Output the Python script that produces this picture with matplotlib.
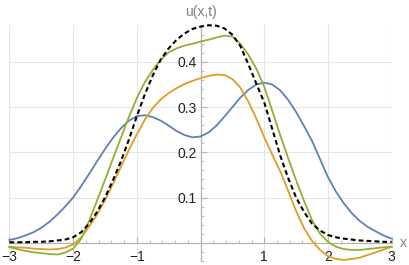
import numpy as np
import matplotlib.pyplot as plt
from matplotlib.ticker import MultipleLocator

############################## Data ############################################
x = [-3.0, -2.875, -2.75, -2.625, -2.5, -2.375, -2.25, -2.125, -2.0, -1.875,
     -1.75, -1.625, -1.5, -1.375, -1.25, -1.125, -1.0, -0.875, -0.75, -0.625,
     -0.5, -0.375, -0.25, -0.125, 0.0, 0.125, 0.25, 0.375, 0.5, 0.625, 0.75,
     0.875, 1.0, 1.125, 1.25, 1.375, 1.5, 1.625, 1.75, 1.875, 2.0, 2.125,
     2.25, 2.375, 2.5, 2.625, 2.75, 2.875, 3.0]
u_blue = [0.006, 0.010, 0.016, 0.023, 0.033, 0.046, 0.062, 0.080, 0.100,
          0.125, 0.152, 0.180, 0.207, 0.232, 0.253, 0.270, 0.280, 0.282,
          0.278, 0.270, 0.259, 0.247, 0.238, 0.233, 0.235, 0.244, 0.259,
          0.279, 0.300, 0.321, 0.338, 0.350, 0.354, 0.350, 0.337, 0.316,
          0.289, 0.258, 0.225, 0.185, 0.145, 0.113, 0.087, 0.065, 0.048,
          0.035, 0.025, 0.016, 0.009]
u_orange = [-0.009, -0.010, -0.011, -0.013, -0.014, -0.015, -0.014, -0.011,
            -0.004, 0.012, 0.035, 0.062, 0.094, 0.130, 0.168, 0.205, 0.240,
            0.272, 0.298, 0.317, 0.331, 0.342, 0.351, 0.358, 0.364, 0.369,
            0.372, 0.371, 0.362, 0.343, 0.312, 0.275, 0.233, 0.195, 0.158,
            0.115, 0.070, 0.032, 0.004, -0.016, -0.030, -0.036, -0.038,
            -0.036, -0.033, -0.027, -0.021, -0.015, -0.009]
u_green = [-0.010, -0.014, -0.018, -0.021, -0.023, -0.025, -0.026, -0.022,
           -0.013, 0.008, 0.048, 0.093, 0.139, 0.186, 0.232, 0.278, 0.320,
           0.355, 0.382, 0.405, 0.421, 0.430, 0.436, 0.440, 0.445, 0.449,
           0.454, 0.458, 0.456, 0.440, 0.416, 0.385, 0.345, 0.292, 0.238,
           0.187, 0.138, 0.092, 0.050, 0.020, 0.002, -0.009, -0.014, -0.016,
           -0.016, -0.014, -0.012, -0.010, -0.009]
u_exact = [0.001, 0.001, 0.001, 0.002, 0.002, 0.003, 0.005, 0.007, 0.012,
           0.023, 0.042, 0.068, 0.100, 0.138, 0.180, 0.228, 0.280, 0.328,
           0.370, 0.405, 0.430, 0.449, 0.463, 0.473, 0.478, 0.481, 0.480,
           0.474, 0.460, 0.435, 0.395, 0.352, 0.310, 0.252, 0.193, 0.143,
           0.100, 0.068, 0.042, 0.027, 0.017, 0.012, 0.009, 0.007, 0.005,
           0.004, 0.003, 0.002, 0.002]
x_ticks = [-3, -2, -1, 1, 2, 3]
y_ticks = [0.1, 0.2, 0.3, 0.4]

############################## Plot ############################################
plt.rcParams['font.family'] = ['Liberation Sans', 'DejaVu Sans']
fig = plt.figure(figsize=(4.09, 2.65), dpi=100)
ax = fig.add_axes([0.023, 0.0158, 0.9347, 0.8899])

ax.plot(x, u_blue, color='#5E81B5', lw=1.3, clip_on=False, zorder=3)
ax.plot(x, u_orange, color='#E19C24', lw=1.3, clip_on=False, zorder=3)
ax.plot(x, u_green, color='#8FB032', lw=1.3, clip_on=False, zorder=3)
ax.plot(x, u_exact, color='black', lw=1.5, dashes=(2.3, 1.5),
        clip_on=False, zorder=4)

## axis limits
ax.set_xlim(-3, 3)
ax.set_ylim(-0.04, 0.4816)

## grid lines
for gx in range(-3, 4):
    ax.axvline(gx, color='#e6e6e6', lw=0.8, zorder=0)
for gy in y_ticks:
    ax.axhline(gy, color='#e6e6e6', lw=0.8, zorder=0)

## axes through the origin
for side in ['top', 'right']:
    ax.spines[side].set_visible(False)
ax.spines['bottom'].set_position(('data', 0))
ax.spines['left'].set_position(('data', 0))
for side in ['bottom', 'left']:
    ax.spines[side].set_color('#b3b3b3')
    ax.spines[side].set_linewidth(0.9)
    ax.spines[side].set_zorder(1)

ax.set_xticks(x_ticks)
ax.set_yticks(y_ticks)
ax.set_xticklabels(['\u22123', '\u22122', '\u22121', '1', '2', '3'])
ax.set_yticklabels(['0.1', '0.2', '0.3', '0.4'])
ax.xaxis.set_minor_locator(MultipleLocator(0.2))
ax.yaxis.set_minor_locator(MultipleLocator(0.02))
ax.tick_params(which='major', direction='in', length=4, width=0.8,
               color='#b3b3b3', labelsize=10, labelcolor='#222222')
ax.tick_params(which='minor', direction='in', length=2.2, width=0.6,
               color='#b3b3b3')
ax.tick_params(axis='x', pad=5)
ax.tick_params(axis='y', pad=3)

## axis labels
ax.text(3.12, 0.0, 'x', color='#808080', fontsize=10,
        ha='left', va='center', transform=ax.transData, clip_on=False)
ax.annotate('u(x,t)', xy=(0, 1), xycoords=('data', 'axes fraction'),
            xytext=(0, 4), textcoords='offset points', color='#808080',
            fontsize=10, ha='center', va='bottom', annotation_clip=False)

plt.savefig('out.png', dpi=100)
